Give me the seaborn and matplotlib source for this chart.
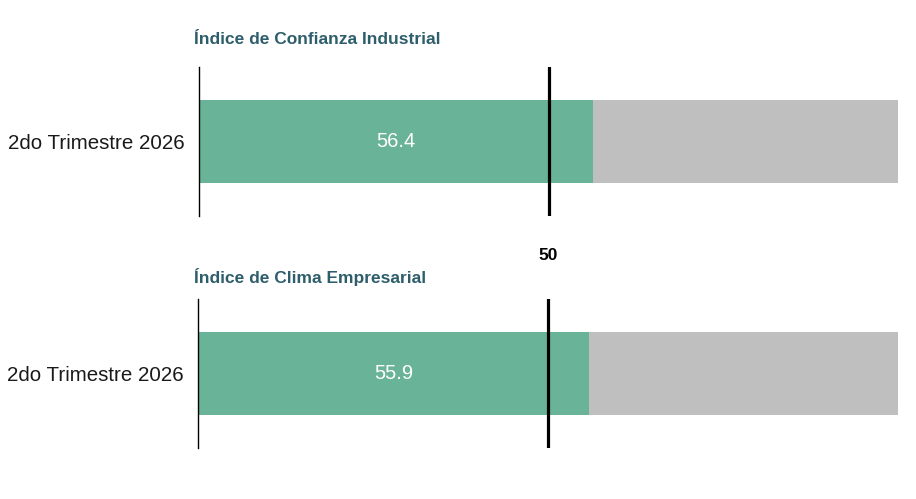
import matplotlib
matplotlib.use("Agg")
import matplotlib.pyplot as plt
import seaborn as sns
import pandas as pd

# datos
titles = ["Índice de Confianza Industrial", "Índice de Clima Empresarial"]
periods = ["2do Trimestre 2026", "2do Trimestre 2026"]
values = [56.4, 55.9]
full_scale = 100
threshold = 50

sns.set_theme(style="white")
plt.rcParams['font.family'] = ['Liberation Sans', 'DejaVu Sans']

green = "#69b398"
grey = "#bfbfbf"
teal = "#2e5e6b"

fig = plt.figure(figsize=(9.16, 4.99), dpi=100)
ax_pos = [
    [199 / 916, 1 - 216 / 499, 699 / 916, 149 / 499],
    [198 / 916, 1 - 448 / 499, 700 / 916, 149 / 499],
]
title_y = [1 - 40 / 499, 1 - 277 / 499]

for i in range(2):
    ax = fig.add_axes(ax_pos[i])
    df = pd.DataFrame({"periodo": [periods[i]], "valor": [values[i]], "total": [full_scale]})
    sns.barplot(data=df, x="total", y="periodo", color=grey, width=0.56,
                saturation=1, ax=ax, orient="h", linewidth=0)
    sns.barplot(data=df, x="valor", y="periodo", color=green, width=0.56,
                saturation=1, ax=ax, orient="h", linewidth=0)
    ax.axvline(threshold, color="black", lw=2.3, zorder=5)
    ax.text(values[i] / 2, 0, f"{values[i]}", color="white", fontsize=14.5,
            ha="center", va="center")
    ax.set_xlim(0, full_scale)
    ax.set_ylim(0.5, -0.5)
    ax.set_xlabel("")
    ax.set_ylabel("")
    ax.set_xticks([])
    ax.tick_params(axis="y", length=0, labelsize=14.8, pad=10, labelcolor="#1a1a1a")
    for s in ["top", "right", "bottom"]:
        ax.spines[s].set_visible(False)
    ax.spines["left"].set_color("black")
    ax.spines["left"].set_linewidth(1)
    fig.text(194 / 916, title_y[i], titles[i], color=teal, fontsize=12.5,
             fontweight="bold", ha="left", va="center")

fig.text(548 / 916, 1 - 256 / 499, str(threshold), fontsize=12.5, fontweight="bold",
         ha="center", va="center", color="black")

fig.savefig("out.png", dpi=100)
